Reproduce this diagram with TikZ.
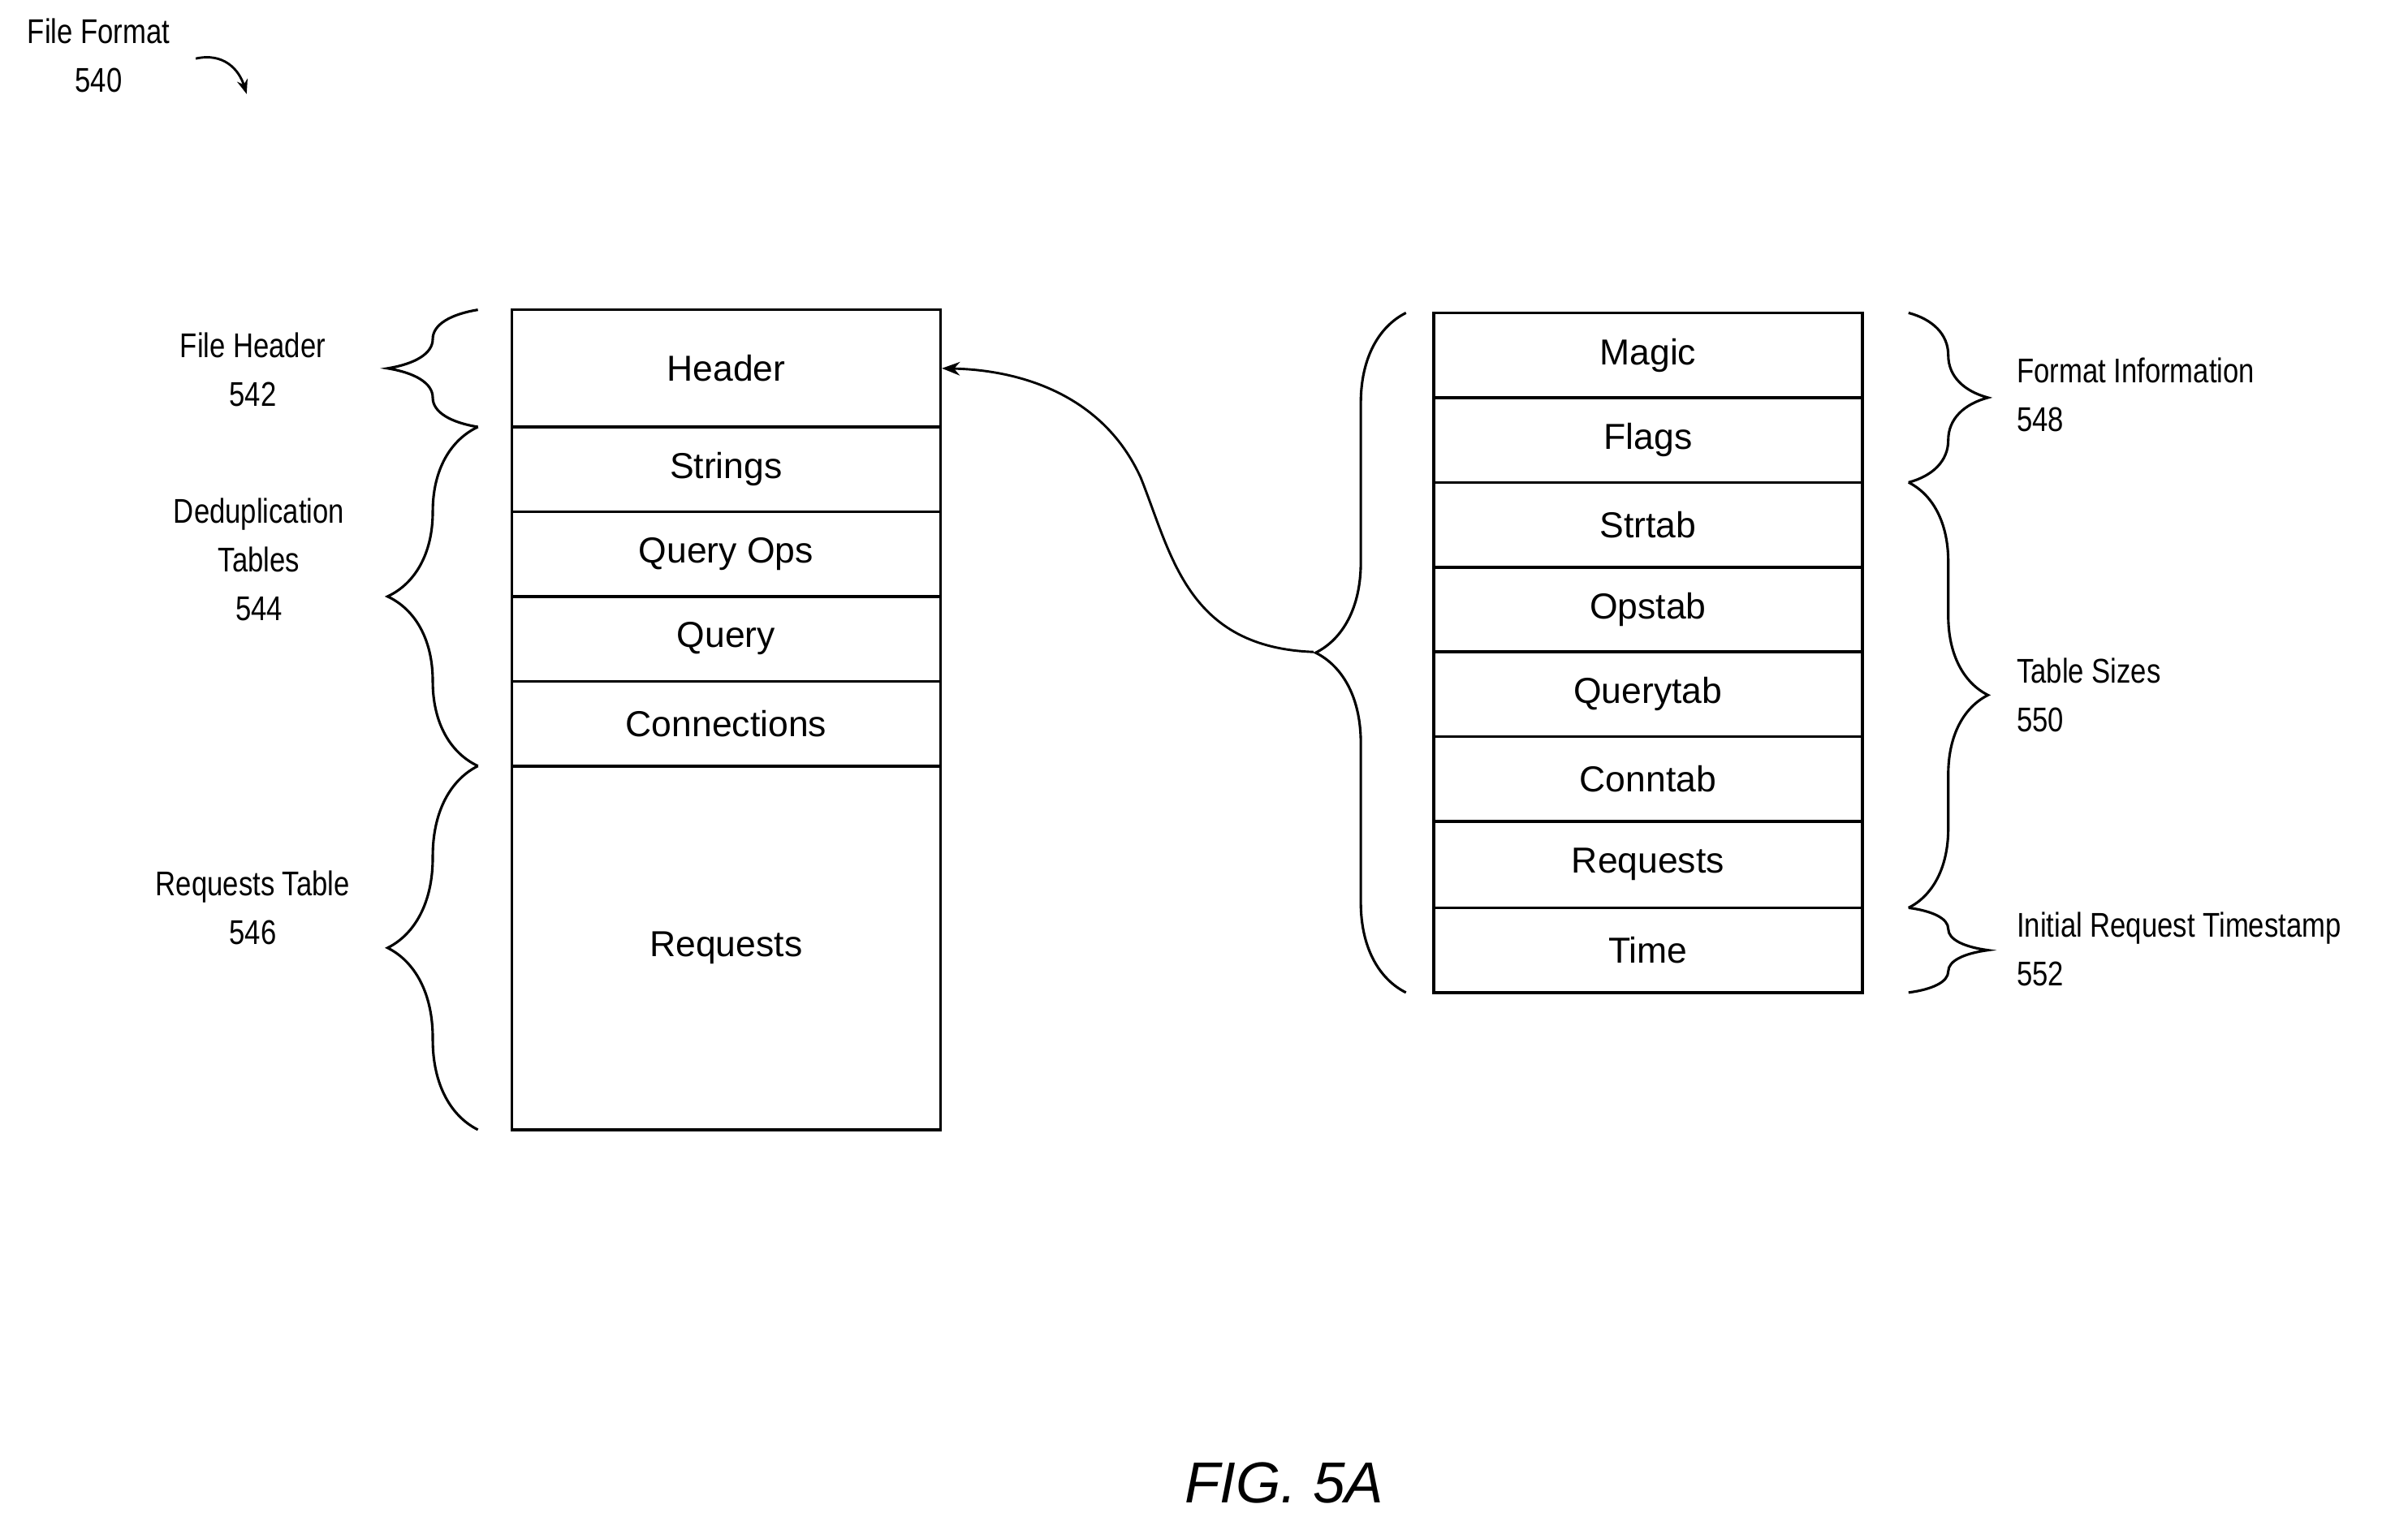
\documentclass[tikz,border=0pt]{standalone}
\usepackage{fontspec}
\setmainfont{Liberation Sans}
\newfontfamily\narrowf{Liberation Sans}[FakeStretch=0.82]
\usetikzlibrary{decorations.pathreplacing,arrows.meta}
\begin{document}
\begin{tikzpicture}[x=0.03cm,y=-0.03cm,
 box/.style={draw,line width=1.6pt,minimum width=278*0.03cm,inner sep=0pt,font=\fontsize{20}{24}\selectfont},
 lab/.style={font=\narrowf\fontsize{19}{27}\selectfont,align=center,inner sep=0pt},
 rlab/.style={lab,align=left,anchor=west},
 br/.style={draw,line width=1.4pt,decorate,decoration={brace,amplitude=#1}}]
\useasboundingbox (0,0) rectangle (1562,984);
% left table
\foreach \n/\t/\a/\b in {h/Header/201/277,s/Strings/277/332,qo/Query Ops/332/387,q/Query/387/442,c/Connections/442/497,r/Requests/497/733}{
 \node[box,minimum height=(\b-\a)*0.03cm] (\n) at (471,{(\a+\b)/2}) {\t};}
% right table
\foreach \n/\t/\a/\b in {m/Magic/203/258,f/Flags/258/313,st/Strtab/313/368,op/Opstab/368/423,qt/Querytab/423/478,ct/Conntab/478/533,rq/Requests/533/589,ti/Time/589/644}{
 \node[box,minimum height=(\b-\a)*0.03cm] (\n) at (1069,{(\a+\b)/2}) {\t};}
% left braces
\draw[br=50pt] (310,277) -- (310,201);
\draw[br=50pt] (310,497) -- (310,277);
\draw[br=50pt] (310,733) -- (310,497);
\draw[br=50pt] (912,644) -- (912,203);
\coordinate (tip) at (852,423);
% right braces
\draw[br=44pt] (1238,203) -- (1238,313);
\draw[br=44pt] (1238,313) -- (1238,589);
\draw[br=44pt] (1238,589) -- (1238,644);
% labels
\node[lab] (l1) at (164,240) {File Header\\542};
\node[lab] (l2) at (168,363) {Deduplication\\Tables\\544};
\node[lab] (l3) at (164,589) {Requests Table\\546};
\node[rlab] (l4) at (1308,256) {Format Information\\548};
\node[rlab] (l5) at (1308,451) {Table Sizes\\550};
\node[rlab] (l6) at (1308,616) {Initial Request Timestamp\\552};
\node[lab] (ff) at (64,36) {File Format\\540};
\coordinate (a1) at (127,38);
\coordinate (a2) at (160,61);
\draw[line width=1.3pt,-{Stealth[length=8pt]}] (a1) .. controls (145,34) and (155,45) .. (a2);
% curved arrow
\draw[line width=1.3pt,-{Stealth[length=10pt]}] (tip) .. controls (770,420) and (760,360) .. (740,310) .. controls (715,255) and (660,240) .. (h.east);
\node[font=\itshape\fontsize{32}{36}\selectfont] (fig) at (833,962) {FIG. 5A};
\end{tikzpicture}
\end{document}
